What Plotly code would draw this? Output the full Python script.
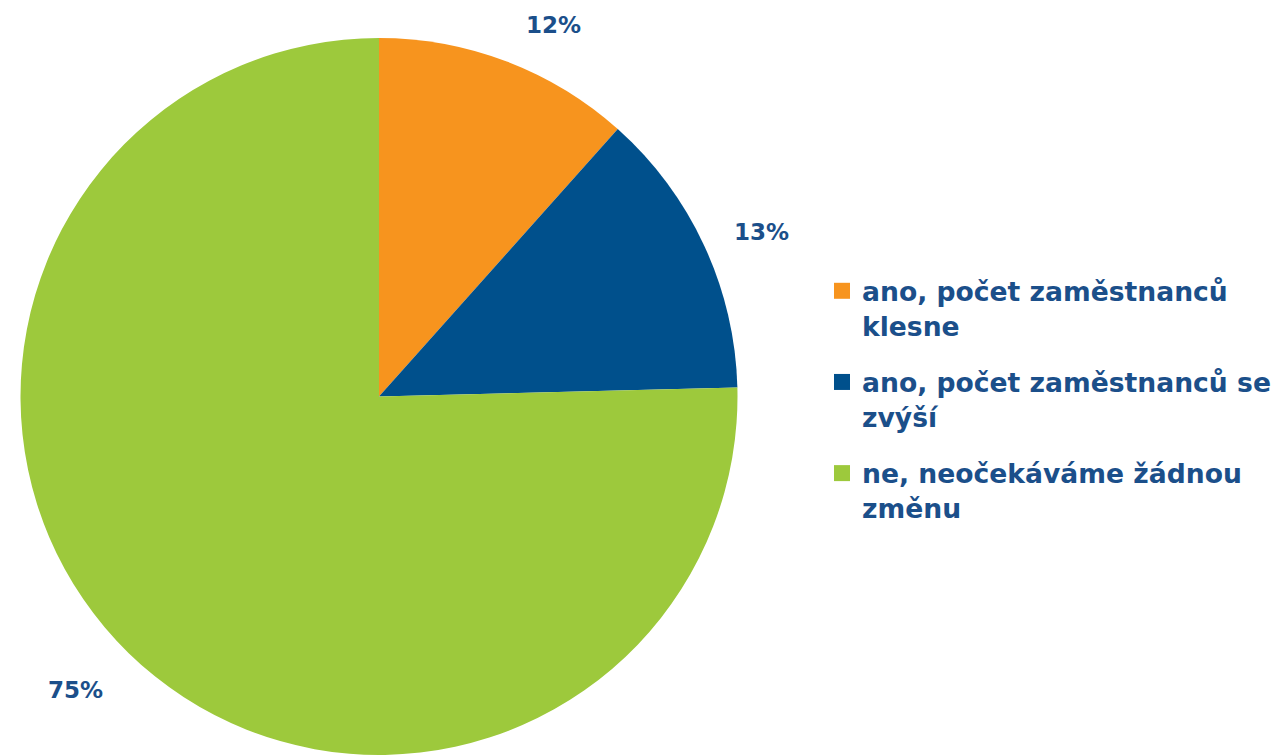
import plotly.graph_objects as go

labels = ["ano, počet zaměstnanců<br>klesne",
          "ano, počet zaměstnanců se<br>zvýší",
          "ne, neočekáváme žádnou<br>změnu"]
values = [11.6, 13.0, 75.4]
pct_labels = ["12%", "13%", "75%"]
colors = ["#F7941E", "#00508C", "#9DC93C"]
TXT = "#1B4F8A"

W, H = 1278, 755
fig = go.Figure()
fig.add_trace(go.Pie(
    labels=labels, values=values, sort=False, direction="clockwise", rotation=0,
    marker=dict(colors=colors, line=dict(width=0)),
    textinfo="none", showlegend=False,
    domain=dict(x=[0, 758/W], y=[0, 1-38/H]),
    hoverinfo="label+percent",
))
for lab, col in zip(labels, colors):
    fig.add_trace(go.Scatter(
        x=[None], y=[None], mode="markers", name=lab, legendgroup=lab,
        marker=dict(symbol="square", size=16, color=col),
    ))

# percentage label positions (pixels)
label_pos = [(553, 25), (762, 232), (75, 690)]
for t, (px, py) in zip(pct_labels, label_pos):
    fig.add_annotation(x=px/W, y=1-py/H, xref="paper", yref="paper",
                       text=t, showarrow=False, xanchor="center", yanchor="middle",
                       font=dict(family="DejaVu Sans", size=23, color=TXT, weight="bold"))

fig.update_layout(
    width=W, height=H, margin=dict(l=0, r=0, t=0, b=0),
    paper_bgcolor="white", plot_bgcolor="white",
    xaxis=dict(visible=False), yaxis=dict(visible=False),
    font=dict(family="DejaVu Sans", color=TXT),
    legend=dict(x=822/W, y=1-267/H, xanchor="left", yanchor="top",
                font=dict(family="DejaVu Sans", size=26.6, color=TXT, weight="bold"),
                valign="top", itemwidth=30, tracegroupgap=19, bgcolor="rgba(0,0,0,0)"),
)
fig.write_html("out.html", config={"displayModeBar": False},
               post_script="document.body.style.margin='0px';document.body.style.overflow='hidden';")
